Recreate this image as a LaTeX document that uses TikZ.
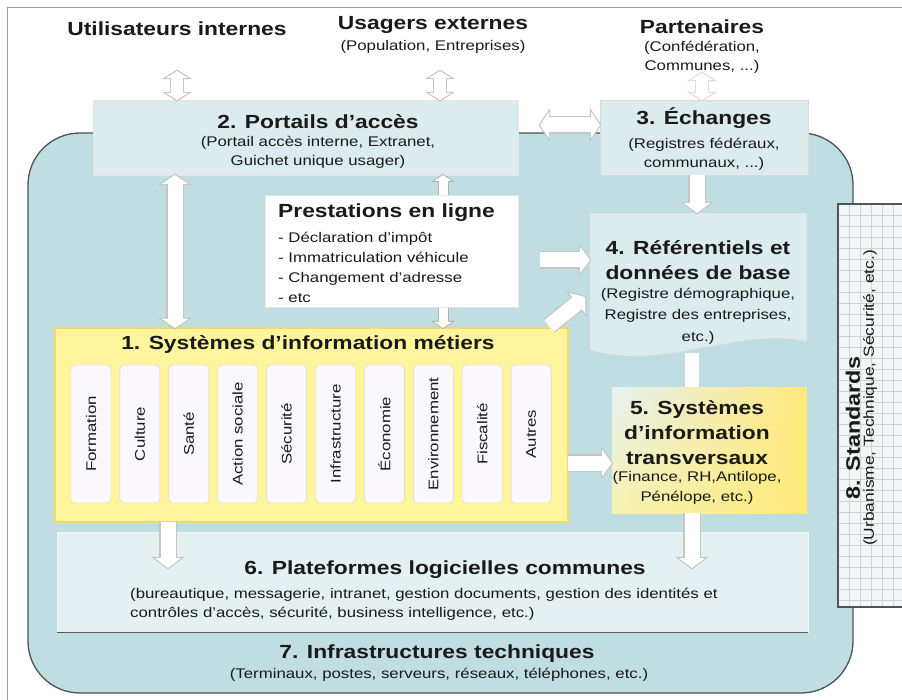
\documentclass[tikz,border=0pt]{standalone}
\usepackage{fontspec}
\setmainfont{Liberation Sans}[FakeStretch=1.2]
\usetikzlibrary{arrows.meta,fit,shadings}
\definecolor{contbg}{HTML}{C0DDE2}
\definecolor{boxlt}{HTML}{DCEBEE}
\definecolor{boxlt2}{HTML}{E4F0F1}
\definecolor{yel}{HTML}{FFF59D}
\definecolor{yeldk}{HTML}{EEDB6A}
\definecolor{yelsat}{HTML}{FFE97A}
\definecolor{colw}{HTML}{FBF8FD}
\definecolor{edge}{HTML}{4A5557}
\definecolor{txt}{HTML}{1A1A1A}
\definecolor{stdbg}{HTML}{F3F6F6}
\begin{document}
\begin{tikzpicture}[x=1pt,y=-1pt,
  hdr/.style={font=\bfseries\fontsize{19}{24}\selectfont, text=txt, inner sep=0pt, align=center},
  sub/.style={font=\fontsize{14}{19}\selectfont, text=txt, inner sep=0pt, align=center},
  region/.style={inner sep=0pt, outer sep=0pt},
  colbox/.style={fill=colw, draw=gray!35, rounded corners=4pt, minimum width=40pt, minimum height=138pt, inner sep=0pt},
  collab/.style={font=\fontsize{14}{16}\selectfont, text=txt, rotate=90, inner sep=0pt},
  % inner (white) tips and matching outline tips
  tipE/.style={-{Triangle[length=10pt,width=26pt]}},
  tipEo/.style={-{Triangle[length=12.7pt,width=33pt]}, shorten >=-1.5pt},
  tipB/.style={{Triangle[length=9pt,width=26pt]}-{Triangle[length=9pt,width=26pt]}},
  tipBo/.style={{Triangle[length=11.7pt,width=33.7pt]}-{Triangle[length=11.7pt,width=33.7pt]}, shorten >=-1.5pt, shorten <=-1.5pt},
  tipS/.style={{Triangle[length=7pt,width=22pt]}-{Triangle[length=7pt,width=22pt]}},
  tipSo/.style={{Triangle[length=9.6pt,width=30pt]}-{Triangle[length=9.6pt,width=30pt]}, shorten >=-1.4pt, shorten <=-1.4pt},
  tipN/.style={{Triangle[length=6pt,width=17pt]}-{Triangle[length=6pt,width=17pt]}},
  tipNo/.style={{Triangle[length=8.2pt,width=23pt]}-{Triangle[length=8.2pt,width=23pt]}, shorten >=-1.2pt, shorten <=-1.2pt},
  wo/.style={draw=gray!45, line width=17.4pt},
  wi/.style={draw=white, line width=15pt},
  woS/.style={draw=gray!45, line width=14.4pt},
  woF/.style={draw=gray!25, line width=14.4pt},
  wiS/.style={draw=white, line width=12pt},
  woN/.style={draw=gray!60, line width=11pt},
  wiN/.style={draw=white, line width=9pt},
  wbar/.style={line width=14pt, draw=white},
]
\useasboundingbox (0,0) rectangle (902,700);
\fill[white] (0,0) rectangle (902,700);
% outer frame
\draw[gray!75, line width=1pt] (7,700) -- (7,8) -- (902,8);

% container (7. Infrastructures techniques)
\node[region, fit={(28,133)(853,693)}, draw=edge, fill=contbg, rounded corners=52pt, line width=1.3pt] (b7) {};

% 8. Standards
\node[region, fit={(838,204)(902,607)}] (b8) {};
\fill[stdbg] (b8.north west) rectangle (b8.south east);
\foreach \xx in {849,860,...,900} \draw[gray!35, line width=0.5pt] (\xx,204) -- (\xx,607);
\foreach \yy in {215,226,...,606} \draw[gray!35, line width=0.5pt] (838,\yy) -- (902,\yy);
\draw[edge, line width=1.4pt] (b8.north east) -- (b8.north west) -- (b8.south west) -- (b8.south east);

% 2. Portails d'acces and 3. Echanges
\node[region, fit={(93,100)(518,175)}, fill=boxlt, draw=gray!20] (b2) {};
\node[region, fit={(600,100)(808,175)}, fill=boxlt, draw=gray!30] (b3) {};

% 1. Systemes d'information metiers
\node[region, fit={(55,328)(568,522)}, fill=yel, draw=yeldk, line width=1.2pt] (b1) {};
\foreach \i/\lab in {0/Formation,1/Culture,2/Santé,3/Action sociale,4/Sécurité,5/Infrastructure,6/Économie,7/Environnement,8/Fiscalité,9/Autres}{
  \node[colbox] (c\i) at ({91+48.9*\i},434) {};
  \node[collab] (cl\i) at (c\i) {\lab};
}

% 4. Referentiels
\node[region, fit={(590,213)(807,357)}] (b4) {};
\path[fill=boxlt, draw=gray!30] (b4.north west) -- (b4.north east) -- (807,342)
   .. controls (740,326) and (665,372) .. (590,350) -- cycle;

% 5. Systemes transversaux
\node[region, fit={(612,387)(807,513)}] (b5) {};
\shade[upper left=boxlt!70!white, upper right=yelsat, lower left=yel!75!boxlt, lower right=yelsat] (b5.north west) rectangle (b5.south east);

% 6. Plateformes
\node[region, fit={(57,532)(808,632)}, fill=boxlt2, draw=white!50!boxlt2] (b6) {};
\draw[gray!70!black, line width=1pt] (b6.south west) -- (b6.south east);

% arrow behind prestations
\coordinate (x443) at (443,0);
\draw[woN, tipNo] (b2.south -| x443) -- (b1.north -| x443);
\draw[wiN, tipN] (b2.south -| x443) -- (b1.north -| x443);

% Prestations en ligne
\node[region, fit={(265,195)(518,307)}, fill=white, draw=gray!20] (pl) {};

% arrows
\coordinate (a1) at (177,71);
\coordinate (a2) at (440,71);
\coordinate (a3) at (702,73);
\coordinate (x175) at (175,0);
\coordinate (y125) at (0,125);
\coordinate (x697) at (697,0);
\coordinate (x692) at (692,0);
\coordinate (y260) at (0,260);
\coordinate (y463) at (0,463);
\coordinate (x168) at (168,0);
\coordinate (d1) at (549,326);
\coordinate (d2) at (585,297);
\coordinate (e1) at (168,568);
\coordinate (e2) at (692,568);
\coordinate (f1) at (692,353);
% users <-> portals
\draw[woS, tipSo] (a1) -- (b2.north -| a1);
\draw[wiS, tipS] (a1) -- (b2.north -| a1);
\draw[woS, tipSo] (a2) -- (b2.north -| a2);
\draw[wiS, tipS] (a2) -- (b2.north -| a2);
\draw[woF, tipSo] (a3) -- (b3.north -| a3);
\draw[wiS, tipS] (a3) -- (b3.north -| a3);
% portals <-> exchanges
\draw[wo, tipBo, shorten <=20.5pt] (b2.east |- y125) -- (b3.west |- y125);
\draw[wi, tipB, shorten <=22pt] (b2.east |- y125) -- (b3.west |- y125);
% portals <-> business systems
\draw[wo, tipBo] (b2.south -| x175) -- (b1.north -| x175);
\draw[wi, tipB] (b2.south -| x175) -- (b1.north -| x175);
% exchanges -> referentials
\draw[wo, tipEo] (b3.south -| x697) -- (b4.north -| x697);
\draw[wi, tipE] (b3.south -| x697) -- (b4.north -| x697);
% online services -> referentials
\draw[wo, tipEo, shorten <=22pt] (pl.east |- y260) -- (b4.west |- y260);
\draw[wi, tipE, shorten <=22pt] (pl.east |- y260) -- (b4.west |- y260);
% business systems -> referentials
\draw[wo, tipEo] (d1) -- (d2);
\draw[wi, tipE] (d1) -- (d2);
% referentials - transversal
\draw[wbar] (f1) -- (b5.north -| x692);
% business systems -> transversal
\draw[wo, tipEo] (b1.east |- y463) -- (b5.west |- y463);
\draw[wi, tipE] (b1.east |- y463) -- (b5.west |- y463);
% down to platforms
\draw[wo, tipEo] (b1.south -| x168) -- (e1);
\draw[wi, tipE] (b1.south -| x168) -- (e1);
\draw[wo, tipEo] (b5.south -| x692) -- (e2);
\draw[wi, tipE] (b5.south -| x692) -- (e2);

% texts
\node[hdr] (h1) at (177,29) {Utilisateurs internes};
\node[hdr] (h2) at (433,25) {Usagers externes};
\node[sub] (h2s) at (433,47) {(Population, Entreprises)};
\node[hdr] (h3) at (702,27) {Partenaires};
\node[sub] (h3s) at (702,57) {(Confédération,\\Communes, ...)};

\node[hdr] (b2t) at (318,122) {2. Portails d'accès};
\node[sub] (b2s) at (318,152) {(Portail accès interne, Extranet,\\Guichet unique usager)};

\node[hdr] (b3t) at (704,118) {3. Échanges};
\node[sub] (b3s) at (704,154) {(Registres fédéraux,\\communaux, ...)};

\node[hdr, anchor=west] (plt) at (278,213) {Prestations en ligne};
\node[sub, anchor=west, align=left, font=\fontsize{14}{20}\selectfont] (pls) at (278,267) {- Déclaration d'impôt\\- Immatriculation véhicule\\- Changement d'adresse\\- etc};

\node[hdr] (b1t) at (308,345) {1. Systèmes d'information métiers};

\node[hdr, font=\bfseries\fontsize{19}{25}\selectfont] (b4t) at (698,260) {4. Référentiels et\\données de base};
\node[sub, font=\fontsize{14}{21.5}\selectfont] (b4s) at (698,316) {(Registre démographique,\\Registre des entreprises,\\etc.)};

\node[hdr, font=\bfseries\fontsize{19}{25}\selectfont] (b5t) at (697,433) {5. Systèmes\\d'information\\transversaux};
\node[sub, font=\fontsize{14}{20}\selectfont] (b5s) at (697,488) {(Finance, RH,Antilope,\\Pénélope, etc.)};

\node[hdr] (b6t) at (445,570) {6. Plateformes logicielles communes};
\node[sub, anchor=west, align=left] (b6s) at (130,604) {(bureautique, messagerie, intranet, gestion documents, gestion des identités et\\contrôles d'accès, sécurité, business intelligence, etc.)};

\node[hdr] (b7t) at (437,654) {7. Infrastructures techniques};
\node[sub] (b7s) at (439,675) {(Terminaux, postes, serveurs, réseaux, téléphones, etc.)};

\node[hdr, rotate=90, font=\bfseries\fontsize{19.5}{24}\selectfont] (b8t) at (853,428) {8. Standards};
\node[sub, rotate=90, font=\fontsize{14.5}{18}\selectfont] (b8s) at (870,398) {(Urbanisme, Technique, Sécurité, etc.)};
\end{tikzpicture}
\end{document}
